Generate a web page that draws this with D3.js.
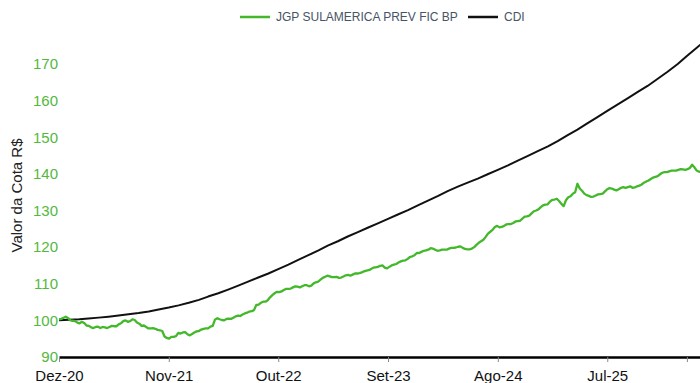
<!DOCTYPE html>
<html>
<head>
<meta charset="utf-8">
<script src="https://cdn.jsdelivr.net/npm/d3@7"></script>
<style>
  html, body { margin: 0; padding: 0; background: #fff; }
  svg { display: block; font-family: "Liberation Sans", Arial, sans-serif; }
</style>
</head>
<body>
<svg id="chart" width="700" height="383"></svg>
<script>
// Series names
const seriesNames = ["JGP SULAMERICA PREV FIC BP", "CDI"];

// Fund quota, one reading every 7 days starting at 2020-12-01
const fundStart = "2020-12-01";
const fundStepDays = 7;
const fundValues = [
  100.3, 100.4, 100.7, 101.0, 100.6, 100.0, 99.9, 99.8, 99.4, 99.2,
  99.6, 99.3, 98.6, 98.5, 98.1, 97.9, 98.2, 98.3, 97.9, 98.2,
  98.1, 97.9, 98.2, 98.5, 98.4, 98.4, 98.9, 99.2, 99.8, 100.0,
  99.6, 99.8, 100.3, 100.1, 99.4, 99.1, 98.5, 98.6, 98.2, 97.8,
  97.8, 97.9, 97.7, 97.4, 97.3, 97.1, 95.6, 95.2, 95.0, 95.5,
  95.5, 95.7, 96.6, 96.4, 96.7, 96.8, 96.2, 95.9, 96.3, 96.7,
  97.0, 97.1, 97.5, 97.7, 97.8, 97.8, 98.3, 98.5, 100.2, 100.6,
  100.3, 100.1, 100.0, 100.4, 100.5, 100.4, 100.7, 101.1, 101.3, 101.2,
  101.6, 101.9, 102.1, 102.4, 102.5, 102.8, 104.2, 104.3, 104.8, 105.1,
  105.1, 105.5, 106.3, 106.9, 107.4, 107.8, 107.7, 107.9, 108.3, 108.6,
  108.6, 108.7, 109.0, 109.3, 109.2, 109.0, 109.3, 109.6, 109.6, 109.3,
  109.5, 110.1, 110.4, 110.6, 111.1, 111.6, 111.9, 112.2, 112.0, 111.8,
  111.8, 111.9, 111.6, 111.7, 112.0, 112.3, 112.4, 112.2, 112.5, 112.8,
  112.8, 112.9, 113.1, 113.4, 113.6, 113.7, 114.0, 114.4, 114.5, 114.6,
  114.9, 115.0, 114.4, 114.2, 114.6, 115.0, 115.2, 115.4, 115.8, 116.1,
  116.3, 116.4, 116.8, 117.3, 117.5, 117.8, 118.4, 118.4, 118.7, 119.0,
  119.1, 119.3, 119.7, 119.6, 119.3, 119.0, 119.1, 119.3, 119.3, 119.3,
  119.6, 119.8, 119.8, 119.9, 120.1, 120.2, 119.8, 119.5, 119.4, 119.4,
  119.6, 120.0, 120.6, 121.2, 121.6, 122.0, 122.8, 123.7, 124.2, 124.7,
  125.5, 125.8, 125.4, 125.5, 125.8, 126.2, 126.3, 126.3, 126.6, 127.0,
  127.1, 127.2, 127.8, 128.3, 128.4, 128.6, 129.2, 129.8, 130.0, 130.3,
  130.9, 131.4, 131.6, 131.7, 132.4, 132.9, 133.0, 133.2, 132.6, 131.8,
  131.2, 132.8, 133.6, 133.9, 134.6, 135.0, 137.3, 136.0, 135.4, 134.6,
  134.2, 134.0, 133.7, 133.8, 134.1, 134.4, 134.5, 134.6, 135.2, 135.8,
  136.1, 136.0, 135.7, 135.5, 135.8, 136.2, 136.4, 136.2, 136.4, 136.6,
  136.2, 136.3, 136.6, 136.8, 137.1, 137.6, 137.9, 138.2, 138.6, 139.0,
  139.2, 139.4, 139.9, 140.3, 140.5, 140.5, 140.7, 140.9, 140.9, 140.9,
  141.1, 141.3, 141.2, 141.1, 141.3, 141.6, 142.5, 141.8, 140.9, 140.6,
  140.5
];

// CDI accumulated, monthly from Dec-20
const cdiStart = "2020-12-01";
const cdiValues = [
  100.0, 100.15, 100.3, 100.5, 100.75, 101.0, 101.3, 101.65, 102.0, 102.45,
  102.95, 103.5, 104.1, 104.8, 105.6, 106.5, 107.4, 108.4, 109.5, 110.6,
  111.7, 112.8, 114.0, 115.2, 116.5, 117.8, 119.1, 120.4, 121.6, 122.9,
  124.1, 125.3, 126.5, 127.7, 128.9, 130.1, 131.4, 132.7, 134.0, 135.3,
  136.5, 137.6, 138.7, 139.9, 141.1, 142.3, 143.6, 144.9, 146.2, 147.5,
  149.0, 150.5, 152.1, 153.8, 155.5, 157.2, 158.9, 160.6, 162.3, 164.0,
  165.9, 167.9, 170.0, 172.2, 174.5, 176.8
];

// Axis ticks
const xTickDates = ["2020-12-01", "2021-11-01", "2022-10-01", "2023-09-01", "2024-08-01", "2025-07-01", "2026-03-01"];
const xTickLabels = ["Dez-20", "Nov-21", "Out-22", "Set-23", "Ago-24", "Jul-25", ""];
const yTickValues = [90, 100, 110, 120, 130, 140, 150, 160, 170];

const colors = { fund: "#43b82a", cdi: "#111111", yTick: "#52b840", legendText: "#475466" };

const parse = d3.utcParse("%Y-%m-%d");
const fund = fundValues.map((v, i) => ({ date: d3.utcDay.offset(parse(fundStart), i * fundStepDays), value: v }));
const cdi = cdiValues.map((v, i) => ({ date: d3.utcMonth.offset(parse(cdiStart), i), value: v }));

const svg = d3.select("#chart");
const W = 700, H = 383;
const mLeft = 59, mRight = 700, mTop = 64, mBottom = 357;

const x = d3.scaleUtc()
  .domain([parse("2020-12-01"), parse("2026-04-10")])
  .range([mLeft, mRight]);
const y = d3.scaleLinear().domain([90, 170]).range([mBottom, mTop]);

svg.append("defs").append("clipPath").attr("id", "plot")
  .append("rect").attr("x", mLeft).attr("y", 0).attr("width", W - mLeft).attr("height", mBottom);

// Y axis: labels only
const yAxis = svg.append("g")
  .attr("transform", `translate(${mLeft},0)`)
  .call(d3.axisLeft(y).tickValues(yTickValues).tickSize(0).tickPadding(1));
yAxis.select(".domain").remove();
yAxis.selectAll("text")
  .attr("fill", colors.yTick)
  .style("font-size", "15px")
  .style("font-family", "Liberation Sans, Arial, sans-serif");

svg.append("text")
  .attr("transform", `translate(22,${(mTop + mBottom) / 2 - 15}) rotate(-90)`)
  .attr("text-anchor", "middle")
  .attr("fill", "#222")
  .style("font-size", "15px")
  .text("Valor da Cota R$");

// Lines
const line = d3.line().x(d => x(d.date)).y(d => y(d.value));
const plot = svg.append("g").attr("clip-path", "url(#plot)");
plot.append("path").datum(cdi)
  .attr("fill", "none").attr("stroke", colors.cdi).attr("stroke-width", 2)
  .attr("stroke-linejoin", "round").attr("d", line);
plot.append("path").datum(fund)
  .attr("fill", "none").attr("stroke", colors.fund).attr("stroke-width", 2.3)
  .attr("stroke-linejoin", "round").attr("d", line);

// X axis
const xAxis = svg.append("g")
  .attr("transform", `translate(0,${mBottom})`)
  .call(d3.axisBottom(x)
    .tickValues(xTickDates.map(parse))
    .tickFormat((d, i) => xTickLabels[i])
    .tickSizeOuter(0).tickSizeInner(5).tickPadding(8));
xAxis.select(".domain").attr("stroke", "#000").attr("stroke-width", 2.5);
xAxis.selectAll(".tick line").attr("stroke", "#888").attr("stroke-width", 1);
xAxis.selectAll("text")
  .attr("fill", "#111")
  .style("font-size", "15px")
  .style("font-family", "Liberation Sans, Arial, sans-serif");

// Legend
const legend = svg.append("g").attr("transform", "translate(240,17)");
const items = [
  { name: seriesNames[0], color: colors.fund, x: 0 },
  { name: seriesNames[1], color: colors.cdi, x: 228 }
];
items.forEach(it => {
  const g = legend.append("g").attr("transform", `translate(${it.x},0)`);
  g.append("line").attr("x1", 0).attr("x2", 30).attr("y1", 0).attr("y2", 0)
    .attr("stroke", it.color).attr("stroke-width", 2.5);
  g.append("text").attr("x", 36).attr("y", 0).attr("dy", "0.35em")
    .attr("fill", colors.legendText).style("font-size", "12px").text(it.name);
});
</script>
</body>
</html>
